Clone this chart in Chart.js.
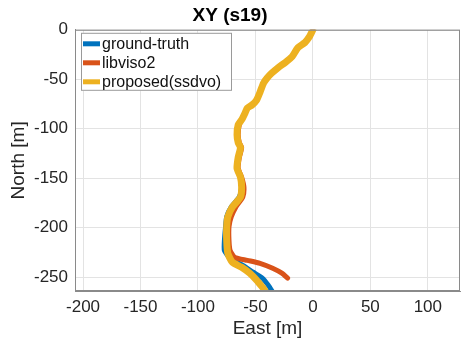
<!DOCTYPE html>
<html>
<head>
<meta charset="utf-8">
<script src="https://cdn.jsdelivr.net/npm/chart.js@4"></script>
<style>
  html, body { margin:0; padding:0; background:#fff; }
  canvas { display:block; }
</style>
</head>
<body>
<canvas id="c" width="474" height="341"></canvas>
<script>
// XY (s19) — trayectorias East/North
const seriesNames = ["ground-truth", "libviso2", "proposed(ssdvo)"];
const seriesColors = ["#0072BD", "#D95319", "#EDB120"];
const seriesWidths = [5, 5, 7];

const xTicks = [-200, -150, -100, -50, 0, 50, 100];
const yTicks = [-250, -200, -150, -100, -50, 0];

// ground-truth
const gtEast  = [0, -3, -7, -13, -18, -24, -30, -36, -40, -43, -46, -49, -53, -57, -59, -62, -65, -66, -65, -63, -65, -66, -63, -62, -64, -71, -75, -76, -77, -77, -72, -61, -52, -44, -39, -35];
const gtNorth = [0, -7, -13, -18, -27, -33, -38, -44, -49, -54, -63, -71, -76, -79, -84, -91, -96, -106, -114, -119, -129, -140, -149, -159, -169, -179, -189, -199, -213, -223, -231, -238, -245, -251, -258, -265];

// libviso2
const libEast  = [0, -3, -7, -13, -18, -24, -30, -36, -40, -43, -46, -49, -53, -57, -59, -62, -64, -65, -64, -62, -64, -65, -62, -60, -61, -67, -71, -73, -73, -72, -68, -57, -46, -35, -27, -22];
const libNorth = [0, -7, -13, -18, -27, -33, -38, -44, -49, -54, -63, -71, -76, -79, -84, -91, -96, -106, -114, -119, -129, -140, -149, -159, -169, -179, -189, -199, -213, -223, -230, -233, -236, -241, -246, -251];

// proposed(ssdvo)
const ssdEast  = [0, -3, -7, -13, -18, -24, -30, -36, -40, -43, -46, -49, -53, -57, -59, -62, -65, -66, -65, -63, -65, -66, -63, -62, -63, -70, -74, -75, -75, -74, -70, -62, -55, -49, -44, -42];
const ssdNorth = [0, -7, -13, -18, -27, -33, -38, -44, -49, -54, -63, -71, -76, -79, -84, -91, -96, -106, -114, -119, -129, -140, -149, -159, -169, -179, -189, -199, -213, -226, -235, -240, -246, -253, -260, -263];

const eastSeries = [gtEast, libEast, ssdEast];
const northSeries = [gtNorth, libNorth, ssdNorth];

const FONT = "'Liberation Sans', Arial, sans-serif";
const AXIS_GRAY = "#8a8a8a";
const TEXT = "#262626";

// caja del eje + leyenda dentro del área
const boxAndLegend = {
  id: "boxAndLegend",
  afterDatasetsDraw(chart){
    const {ctx, chartArea:a} = chart;
    ctx.save();
    ctx.strokeStyle = AXIS_GRAY;
    ctx.lineWidth = 1;
    ctx.strokeRect(a.left + 0.5, a.top + 0.5, a.right - a.left - 1, a.bottom - a.top - 1);

    // leyenda
    const lx = a.left + 6, ly = a.top + 3, lw = 151, lh = 58;
    ctx.fillStyle = "#fff";
    ctx.fillRect(lx, ly, lw, lh);
    ctx.strokeStyle = "#9a9a9a";
    ctx.strokeRect(lx + 0.5, ly + 0.5, lw - 1, lh - 1);
    ctx.font = "16px " + FONT;
    ctx.textBaseline = "middle";
    chart.data.datasets.forEach((ds, i) => {
      const y = ly + 11 + i * 19;
      ctx.strokeStyle = ds.borderColor;
      ctx.lineWidth = 5;
      ctx.beginPath();
      ctx.moveTo(lx + 2, y);
      ctx.lineTo(lx + 19, y);
      ctx.stroke();
      ctx.fillStyle = "#111";
      ctx.fillText(ds.label, lx + 21, y + 1);
    });
    ctx.restore();
  }
};

const datasets = seriesNames.map((name, i) => ({
  label: name,
  data: eastSeries[i].map((x, k) => ({x, y: northSeries[i][k]})),
  borderColor: seriesColors[i],
  backgroundColor: seriesColors[i],
  borderWidth: seriesWidths[i],
  showLine: true,
  pointRadius: 0,
  tension: 0.2,
  borderCapStyle: "round",
  borderJoinStyle: "round",
  order: seriesNames.length - i
}));

new Chart(document.getElementById("c"), {
  type: "scatter",
  data: { datasets },
  plugins: [boxAndLegend],
  options: {
    responsive: false,
    animation: false,
    events: [],
    layout: { padding: { right: 14, left: 0, top: 0, bottom: 0 } },
    plugins: {
      legend: { display: false },
      tooltip: { enabled: false },
      title: {
        display: true,
        text: "XY (s19)",
        color: "#000",
        font: { family: FONT, size: 19, weight: "bold", lineHeight: 1.2 },
        padding: { top: 4, bottom: 3 }
      }
    },
    scales: {
      x: {
        type: "linear",
        min: -207, max: 128,
        afterBuildTicks: s => { s.ticks = xTicks.map(v => ({value: v})); },
        afterFit: s => { s.height = 50; },
        ticks: { color: TEXT, font: { family: FONT, size: 17 }, padding: 6, maxRotation: 0 },
        grid: { color: "#e3e3e3", drawTicks: false },
        border: { color: AXIS_GRAY },
        title: {
          display: true, text: "East [m]", color: TEXT,
          font: { family: FONT, size: 19, lineHeight: 1.2 },
          padding: { top: 0, bottom: 1 }
        }
      },
      y: {
        type: "linear",
        min: -264, max: 0,
        afterBuildTicks: s => { s.ticks = yTicks.map(v => ({value: v})); },
        afterFit: s => { s.width = 75; },
        ticks: { color: TEXT, font: { family: FONT, size: 17 }, padding: 7 },
        grid: { color: "#e3e3e3", drawTicks: false },
        border: { color: AXIS_GRAY },
        title: {
          display: true, text: "North [m]", color: TEXT,
          font: { family: FONT, size: 19, lineHeight: 1.2 },
          padding: { top: 7, bottom: 0 }
        }
      }
    }
  }
});
</script>
</body>
</html>
